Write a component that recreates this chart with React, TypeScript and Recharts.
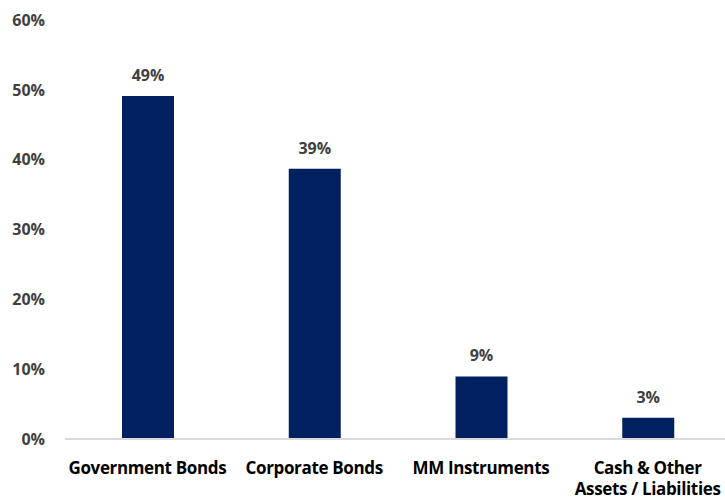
import React from 'react';
import { BarChart, Bar, XAxis, YAxis, LabelList } from 'recharts';

const CATEGORIES = ['Government Bonds', 'Corporate Bonds', 'MM Instruments', 'Cash & Other\nAssets / Liabilities'];
const WEIGHTS = [49.1, 38.7, 8.95, 3.05];
const Y_TICKS = [0, 10, 20, 30, 40, 50, 60];

const BAR_COLOR = '#002060';
const FONT = '"Open Sans", sans-serif';

const data = CATEGORIES.map((name, i) => ({ name, value: WEIGHTS[i] }));

const CategoryTick = ({ x, y, payload }: any) => {
  const lines = String(payload.value).split('\n');
  return (
    <text
      x={x}
      y={y}
      textAnchor="middle"
      fontFamily={FONT}
      fontWeight={700}
      fontSize={17}
      letterSpacing={-0.35}
      fill="#000000"
    >
      {lines.map((line, i) => (
        <tspan key={i} x={x - 1} dy={i === 0 ? 27 : 21}>
          {line}
        </tspan>
      ))}
    </text>
  );
};

// full-bleed: drop the body margin so no scrollbar eats the right edge
const App: React.FC = () => {
  return (
    <div style={{ width: 725, height: 497, background: '#ffffff' }}>
      <style>{'html, body { margin: 0; overflow: hidden; }'}</style>
      <BarChart width={725} height={497} data={data} margin={{ top: 20, right: -7, bottom: 0, left: 0 }}>
        <XAxis
          dataKey="name"
          height={58}
          tickLine={false}
          axisLine={{ stroke: '#d9d9d9', strokeWidth: 2 }}
          tick={<CategoryTick />}
          interval={0}
        />
        <YAxis
          domain={[0, 60]}
          ticks={Y_TICKS}
          width={65}
          axisLine={false}
          tickLine={false}
          tickFormatter={(v: number) => `${v}%`}
          tick={{ fontFamily: FONT, fontWeight: 700, fontSize: 16, fill: '#404040', dx: -12 }}
        />
        <Bar dataKey="value" fill={BAR_COLOR} barSize={52} isAnimationActive={false}>
          <LabelList
            dataKey="value"
            position="top"
            offset={15}
            formatter={(v: number) => `${Math.round(v)}%`}
            style={{ fontFamily: FONT, fontWeight: 700, fontSize: 16, fill: '#404040' }}
          />
        </Bar>
      </BarChart>
    </div>
  );
};

export default App;
